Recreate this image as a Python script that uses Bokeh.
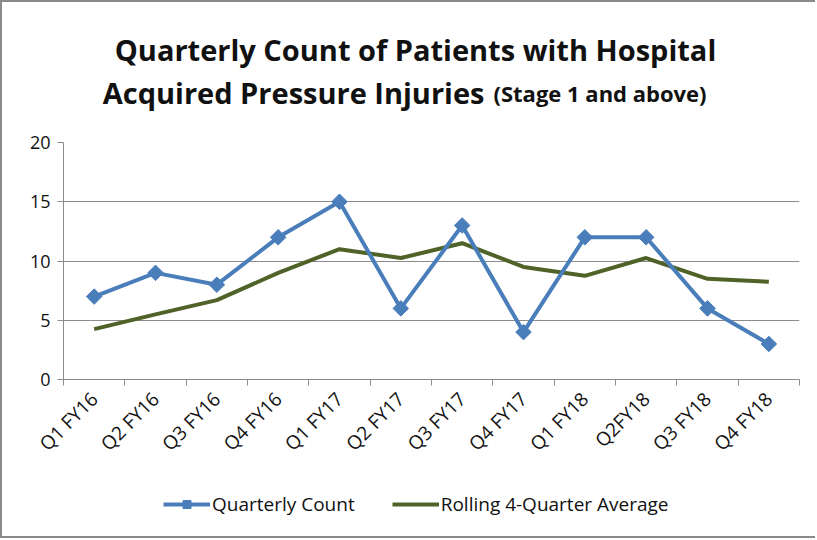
from math import pi
from bokeh.plotting import figure
from bokeh.layouts import column
from bokeh.models import Range1d, FixedTicker, Legend, LegendItem
from bokeh.core.properties import value
from bokeh.embed import file_html
from bokeh.resources import INLINE

# ---- data ----
quarters = ["Q1 FY16", "Q2 FY16", "Q3 FY16", "Q4 FY16", "Q1 FY17", "Q2 FY17",
            "Q3 FY17", "Q4 FY17", "Q1 FY18", "Q2FY18", "Q3 FY18", "Q4 FY18"]
quarterly_count = [7, 9, 8, 12, 15, 6, 13, 4, 12, 12, 6, 3]
rolling_avg = [4.25, 5.5, 6.7, 9.0, 11.0, 10.25, 11.5, 9.5, 8.75, 10.25, 8.5, 8.25]
y_ticks = [0, 5, 10, 15, 20]

title_line1 = "Quarterly Count of Patients with Hospital"
title_line2a = "Acquired Pressure Injuries"
title_line2b = "(Stage 1 and above)"

FONT = "Open Sans"
BLUE = "#4A7EBB"
GREEN = "#4F6228"
GRID = "#8C8C8C"
TXT = "#111111"

FL, FW, FR = 61, 736, 16   # left border, frame width, right border (shared by all strips)
X0 = FL + 2                 # page x of the frame's left edge


def strip(height):
    fig = figure(frame_width=FW, frame_height=height, output_backend="svg",
                 toolbar_location=None, x_range=Range1d(X0, X0 + FW),
                 y_range=Range1d(height, 0), x_axis_location=None, y_axis_location=None,
                 min_border_left=FL, min_border_right=FR, min_border_top=0,
                 min_border_bottom=0)
    fig.outline_line_color = None
    fig.grid.visible = False
    fig.background_fill_color = "white"
    fig.border_fill_color = "white"
    return fig


# ---- title strip ----
tf = strip(118)
tf.text(x=[415], y=[47], text=[title_line1], text_font=value(FONT),
        text_font_style="bold", text_font_size="29px", text_color=TXT,
        text_align="center", text_baseline="alphabetic")
tf.text(x=[484], y=[90], text=[title_line2a], text_font=value(FONT),
        text_font_style="bold", text_font_size="29px", text_color=TXT,
        text_align="right", text_baseline="alphabetic")
tf.text(x=[493], y=[90], text=[title_line2b], text_font=value(FONT),
        text_font_style="bold", text_font_size="22px", text_color=TXT,
        text_align="left", text_baseline="alphabetic")

# ---- main chart ----
n = len(quarters)
xs = [i + 0.5 for i in range(n)]
boundaries = [float(i) for i in range(n + 1)]

p = figure(frame_width=FW, frame_height=237, output_backend="svg", toolbar_location=None,
           x_range=Range1d(0, n), y_range=Range1d(0, 20),
           min_border_left=FL, min_border_right=FR, min_border_top=22,
           min_border_bottom=101)
p.outline_line_color = None
p.background_fill_color = "white"
p.border_fill_color = "white"

yax = p.yaxis[0]
yax.ticker = FixedTicker(ticks=y_ticks)
yax.major_tick_out = 6
yax.major_tick_in = 0
yax.minor_tick_out = 0
yax.minor_tick_in = 0
yax.axis_line_color = GRID
yax.major_tick_line_color = GRID
yax.major_label_text_font = FONT
yax.major_label_text_font_size = "18px"
yax.major_label_text_color = TXT
yax.major_label_standoff = 7

xax = p.xaxis[0]
xax.ticker = FixedTicker(ticks=xs, minor_ticks=boundaries)
xax.major_label_overrides = {x: q for x, q in zip(xs, quarters)}
xax.major_tick_out = 0
xax.major_tick_in = 0
xax.minor_tick_out = 6
xax.minor_tick_in = 0
xax.minor_tick_line_color = GRID
xax.axis_line_color = GRID
xax.major_label_orientation = pi / 4
xax.major_label_text_font = FONT
xax.major_label_text_font_size = "19px"
xax.major_label_text_color = TXT
xax.major_label_standoff = 10

p.xgrid.visible = False
p.ygrid.ticker = FixedTicker(ticks=y_ticks)
p.ygrid.grid_line_color = GRID
p.ygrid.grid_line_width = 1

p.line(xs, rolling_avg, line_color=GREEN, line_width=4)
p.line(xs, quarterly_count, line_color=BLUE, line_width=4)
p.scatter(xs, quarterly_count, marker="square", angle=pi / 4, size=11,
          fill_color=BLUE, line_color=BLUE, line_width=1)

# ---- legend strip (sample renderers lie outside the strip's view, only the key shows) ----
lf = strip(56)
off = [-1000]
lb_line = lf.line(x=off, y=off, line_color=BLUE, line_width=4)
lb_pts = lf.scatter(x=off, y=off, marker="square", angle=pi / 4, size=10,
                    fill_color=BLUE, line_color=BLUE)
lg_line = lf.line(x=off, y=off, line_color=GREEN, line_width=4)
legend = Legend(items=[LegendItem(label="Quarterly Count", renderers=[lb_line, lb_pts]),
                       LegendItem(label="Rolling 4-Quarter Average", renderers=[lg_line])],
                orientation="horizontal", location=(100, 19),
                border_line_color=None, background_fill_alpha=0,
                label_text_font=FONT, label_text_font_size="19px",
                label_text_color=TXT, glyph_width=47, glyph_height=20,
                label_standoff=2, spacing=37, padding=0, margin=0)
lf.add_layout(legend, "center")

layout = column(tf, p, lf, spacing=0,
                styles={"border-left": "2px solid #8A8A8A",
                        "border-top": "2px solid #8A8A8A",
                        "border-bottom": "2px solid #8A8A8A"})
open("out.html", "w").write(file_html(layout, INLINE))
